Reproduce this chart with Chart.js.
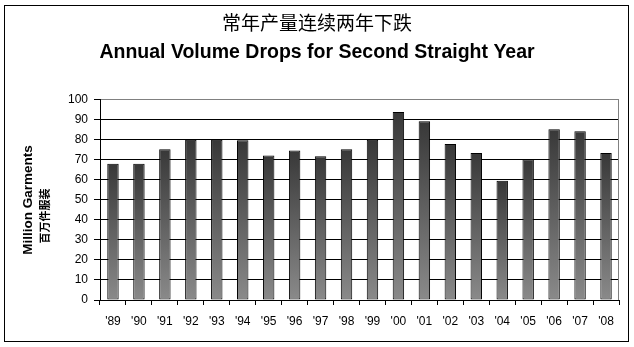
<!DOCTYPE html>
<html>
<head>
<meta charset="utf-8">
<script src="https://cdn.jsdelivr.net/npm/chart.js@4"></script>
<style>
  html, body { margin: 0; padding: 0; background: #fff; }
  #wrap { width: 634px; height: 347px; }
</style>
</head>
<body>
<div id="wrap"><canvas id="garments" width="634" height="347"></canvas></div>
<script>
// 年份与产量 (百万件服装)
const years = ["'89", "'90", "'91", "'92", "'93", "'94", "'95", "'96", "'97", "'98",
               "'99", "'00", "'01", "'02", "'03", "'04", "'05", "'06", "'07", "'08"];
const volumes = [68, 68, 75.2, 80, 80, 79.7, 72.2, 74.7, 71.8, 75.2,
                 80, 93.8, 89.2, 77.9, 73.4, 59.5, 70.3, 85.3, 84.3, 73.4];
const yTicks = [0, 10, 20, 30, 40, 50, 60, 70, 80, 90, 100];

const titleCn = '常年产量连续两年下跌';
const titleEn = 'Annual Volume Drops for Second Straight Year';
const axisEn = 'Million Garments';
const axisCn = '百万件服装';

const canvas = document.getElementById('garments');
const ctx = canvas.getContext('2d');

// 每根柱子自己的渐变: 顶部深灰, 底部浅灰
function barFill(c) {
  const chart = c.chart;
  if (!chart.chartArea) return '#606060';
  const y = chart.scales.y;
  const top = y.getPixelForValue(c.raw);
  const bottom = y.getPixelForValue(0);
  const g = chart.ctx.createLinearGradient(0, top, 0, bottom);
  g.addColorStop(0, '#383838');
  g.addColorStop(1, '#8a8a8a');
  return g;
}

// 外框, 绘图区右侧灰线, 纵轴标题
const decor = {
  id: 'decor',
  beforeDraw(chart) {
    const c = chart.ctx;
    c.save();
    c.fillStyle = '#fff';
    c.fillRect(0, 0, chart.width, chart.height);
    c.restore();
  },
  afterDraw(chart) {
    const c = chart.ctx;
    const a = chart.chartArea;
    c.save();
    c.strokeStyle = '#808080';
    c.lineWidth = 1;
    c.beginPath();
    c.moveTo(a.right - 0.5, a.top);
    c.lineTo(a.right - 0.5, a.bottom);
    c.stroke();

    c.strokeStyle = '#000';
    c.strokeRect(4.5, 5.5, 624, 336);

    c.fillStyle = '#000';
    c.textBaseline = 'middle';
    c.save();
    c.translate(28, 200);
    c.rotate(-Math.PI / 2);
    c.textAlign = 'center';
    c.font = 'bold 13.5px "Liberation Sans", Arial, sans-serif';
    c.fillText(axisEn, 0, 0);
    c.restore();
    c.save();
    c.translate(45, 216);
    c.rotate(-Math.PI / 2);
    c.textAlign = 'center';
    c.font = 'bold 11px "Noto Sans CJK SC", sans-serif';
    c.fillText(axisCn, 0, 0);
    c.restore();
    c.restore();
  }
};

const chart = new Chart(ctx, {
  type: 'bar',
  data: {
    labels: years,
    datasets: [{
      data: volumes,
      backgroundColor: barFill,
      borderColor: '#000',
      borderWidth: 1,
      borderSkipped: false,
      barPercentage: 0.44,
      categoryPercentage: 1
    }]
  },
  plugins: [decor],
  options: {
    responsive: false,
    animation: false,
    layout: { padding: { left: 15, right: 15, top: 0, bottom: 0 } },
    plugins: {
      legend: { display: false },
      tooltip: { enabled: false },
      title: {
        display: true,
        text: titleCn,
        color: '#000',
        font: { family: '"Noto Sans CJK SC", sans-serif', size: 19, weight: 'normal', lineHeight: 1.2 },
        padding: { top: 11, bottom: 0 }
      },
      subtitle: {
        display: true,
        text: titleEn,
        color: '#000',
        font: { family: '"Liberation Sans", Arial, sans-serif', size: 19.5, weight: 'bold', lineHeight: 1.2 },
        padding: { top: 7, bottom: 35.5 }
      }
    },
    scales: {
      x: {
        afterFit(s) { s.height = 47; },
        offset: true,
        grid: {
          display: true,
          offset: true,
          drawOnChartArea: false,
          tickLength: 5,
          color: '#000',
          tickColor: '#000'
        },
        border: { display: true, color: '#000', width: 1 },
        ticks: {
          color: '#000',
          padding: 9,
          maxRotation: 0,
          autoSkip: false,
          font: { family: '"Liberation Sans", Arial, sans-serif', size: 12 }
        }
      },
      y: {
        min: 0,
        max: 100,
        afterFit(s) { s.width = 85; },
        afterBuildTicks(s) { s.ticks = yTicks.map(v => ({ value: v })); },
        grid: {
          color: c => (c.tick && c.tick.value === 100 ? '#808080' : '#000'),
          tickColor: '#000',
          tickLength: 6,
          lineWidth: 1
        },
        border: { display: true, color: '#000', width: 1 },
        ticks: {
          color: '#000',
          padding: 6,
          font: { family: '"Liberation Sans", Arial, sans-serif', size: 12 }
        }
      }
    }
  }
});
</script>
</body>
</html>
